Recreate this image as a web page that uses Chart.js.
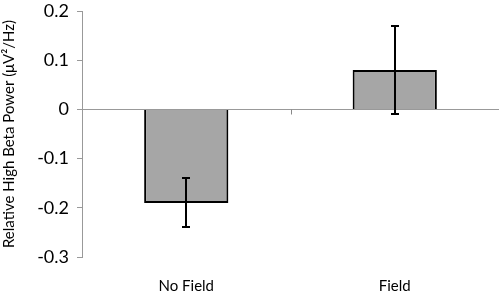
<!DOCTYPE html>
<html>
<head>
<meta charset="utf-8">
<script src="https://cdn.jsdelivr.net/npm/chart.js@4"></script>
<style>
  html, body { margin: 0; padding: 0; background: #fff; }
  #wrap { width: 500px; height: 296px; }
</style>
</head>
<body>
<div id="wrap"><canvas id="myChart"></canvas></div>
<script>
// chart data
const categories = ['No Field', 'Field'];
const meanValues = [-0.19, 0.08];
const errLow = [-0.24, -0.01];
const errHigh = [-0.14, 0.17];
const yTicks = [0.2, 0.1, 0, -0.1, -0.2, -0.3];

// error bars + the small category tick on the zero line
const errorBars = {
  id: 'errorBars',
  afterDatasetsDraw(chart) {
    const ctx = chart.ctx;
    const y = chart.scales.y;
    const x = chart.scales.x;
    const meta = chart.getDatasetMeta(0);
    ctx.save();
    ctx.strokeStyle = '#000';
    ctx.lineWidth = 2;
    meta.data.forEach((bar, i) => {
      const cx = Math.round(bar.x);
      const top = Math.round(y.getPixelForValue(errHigh[i]));
      const bot = Math.round(y.getPixelForValue(errLow[i]));
      ctx.beginPath();
      ctx.moveTo(cx, top); ctx.lineTo(cx, bot);
      ctx.moveTo(cx - 4, top); ctx.lineTo(cx + 4, top);
      ctx.moveTo(cx - 4, bot); ctx.lineTo(cx + 4, bot);
      ctx.stroke();
    });
    // tick between categories
    const zero = Math.round(y.getPixelForValue(0)) + 0.5;
    const mid = Math.round((x.getPixelForValue(0) + x.getPixelForValue(1)) / 2) + 0.5;
    ctx.strokeStyle = '#888';
    ctx.lineWidth = 1;
    ctx.beginPath();
    ctx.moveTo(mid, zero); ctx.lineTo(mid, zero + 5);
    ctx.stroke();
    ctx.restore();
  }
};

const ctx = document.getElementById('myChart').getContext('2d');
const chart = new Chart(ctx, {
  type: 'bar',
  data: {
    labels: categories,
    datasets: [{
      data: meanValues,
      backgroundColor: '#a6a6a6',
      borderColor: '#000',
      borderWidth: 2,
      categoryPercentage: 1,
      barPercentage: 0.404
    }]
  },
  options: {
    responsive: true,
    maintainAspectRatio: false,
    animation: false,
    layout: { autoPadding: false, padding: { top: 11, right: 1, left: 0, bottom: 0 } },
    plugins: { legend: { display: false }, tooltip: { enabled: false } },
    scales: {
      x: {
        grid: { display: false },
        border: { display: false },
        ticks: { color: '#000', font: { family: 'Lato', size: 15 }, padding: 12 },
        afterFit(scale) { scale.height = 39; scale.paddingLeft = 0; scale.paddingRight = 0; }
      },
      y: {
        min: -0.3,
        max: 0.2,
        afterBuildTicks(scale) { scale.ticks = yTicks.map(v => ({ value: v })); },
        ticks: {
          color: '#000',
          font: { family: 'Lato', size: 18 },
          padding: 8,
          callback: v => (Math.abs(v) < 1e-9 ? '0' : (Math.round(v * 10) / 10).toString())
        },
        grid: {
          color: c => (c.tick && Math.abs(c.tick.value) < 1e-9 ? '#999' : 'transparent'),
          tickColor: '#999',
          tickLength: 5
        },
        border: { display: true, color: '#999' },
        title: {
          display: true,
          text: 'Relative High Beta Power (μV²/Hz)',
          color: '#000',
          font: { family: 'Lato', size: 15 },
          padding: 0
        },
        afterFit(scale) { scale.width = 82; scale.paddingTop = 0; scale.paddingBottom = 0; }
      }
    }
  },
  plugins: [errorBars]
});
</script>
</body>
</html>
